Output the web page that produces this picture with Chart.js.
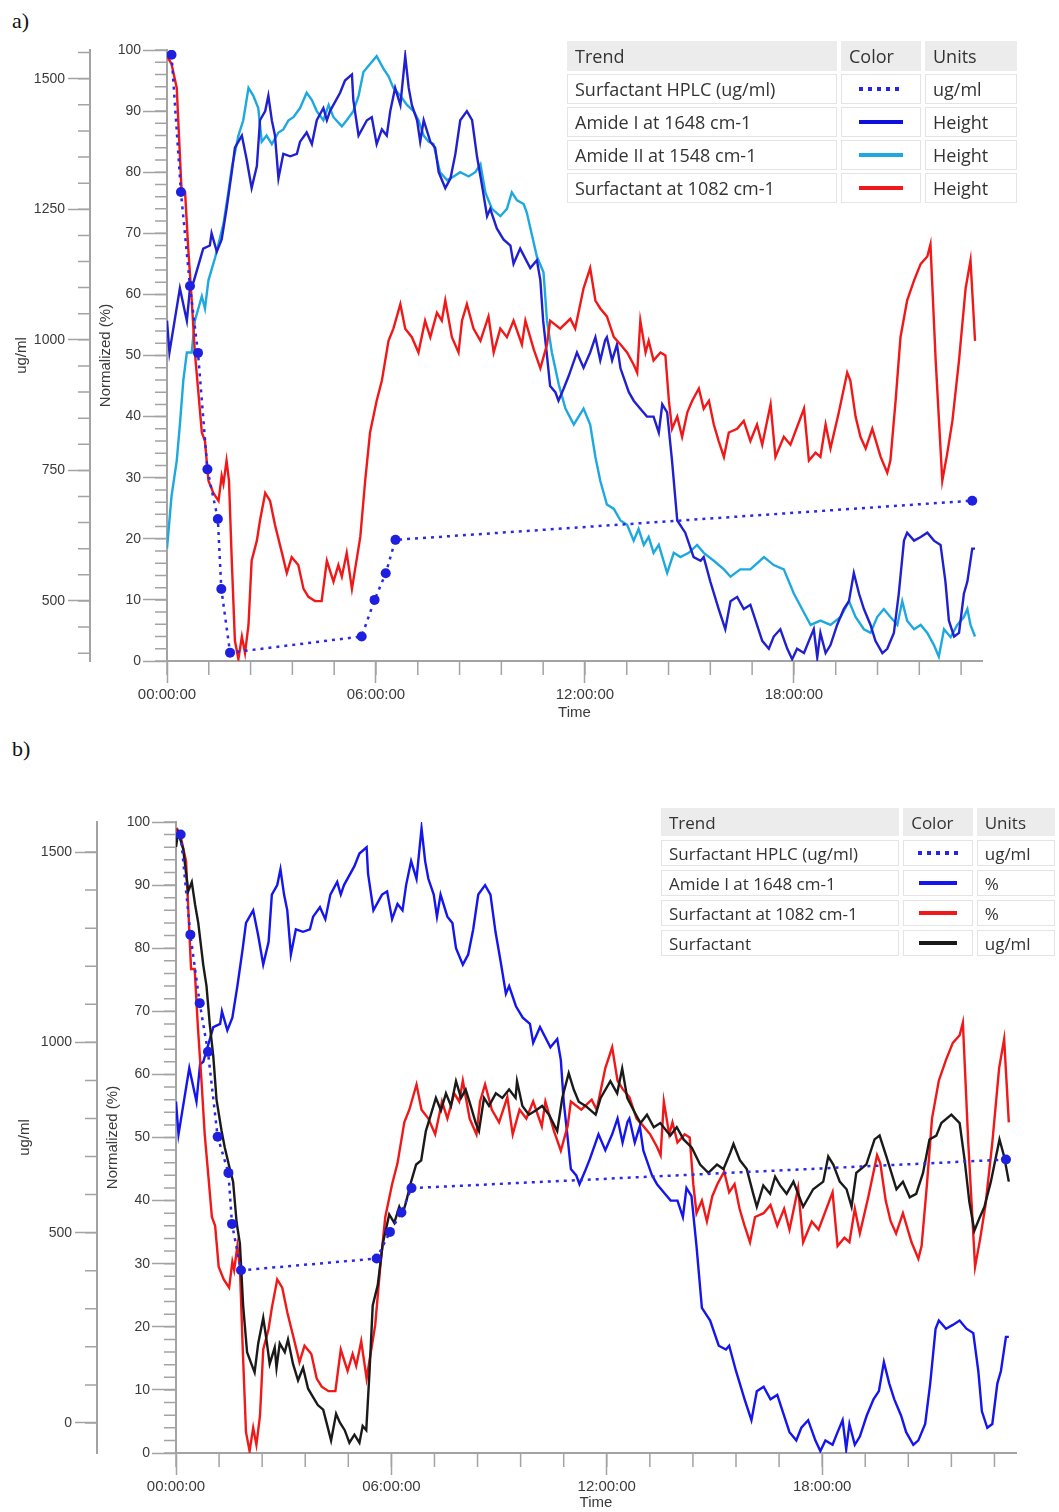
<!DOCTYPE html>
<html>
<head>
<meta charset="utf-8">
<title>Surfactant trends</title>
<script src="https://cdn.jsdelivr.net/npm/chart.js@4.4.1/dist/chart.umd.min.js"></script>
<style>
  body { margin: 0; background: #fff; }
  #page { position: relative; width: 1059px; height: 1512px; overflow: hidden; }
  canvas { position: absolute; left: 0; }
  .tag { position: absolute; left: 12px; font: 22px "Liberation Serif", serif; color: #111; }
  table.trend { position: absolute; border-collapse: separate; font-family: "Open Sans", sans-serif; color: #333; }
  table.trend td { box-sizing: border-box; border: 1px solid #e4e4e4; background: #fff; padding: 0 0 0 7px; white-space: nowrap; }
  table.trend tr.head td { background: #ececec; border-color: #ececec; }
  table.trend td.sw { padding: 0; }
  .swatch { height: 4px; margin: 0 auto; }
  .dotted { background: repeating-linear-gradient(90deg, #2525e8 0 4px, transparent 4px 9px); }
</style>
</head>
<body>
<div id="page">
  <div class="tag" style="top:8px">a)</div>
  <canvas id="chartA" width="1059" height="731" style="top:0"></canvas>

  <table class="trend" id="legendA" style="left:563px; top:38px; border-spacing:4px 3px; font-size:18px">
    <tr class="head" style="height:30px"><td style="width:270px">Trend</td><td style="width:80px">Color</td><td style="width:92px">Units</td></tr>
    <tr style="height:30px"><td>Surfactant HPLC (ug/ml)</td><td class="sw"><div class="swatch dotted" style="width:44px"></div></td><td>ug/ml</td></tr>
    <tr style="height:30px"><td>Amide I at 1648 cm-1</td><td class="sw"><div class="swatch" style="width:44px;background:#1010dd"></div></td><td>Height</td></tr>
    <tr style="height:30px"><td>Amide II at 1548 cm-1</td><td class="sw"><div class="swatch" style="width:44px;background:#1ea8e0"></div></td><td>Height</td></tr>
    <tr style="height:30px"><td>Surfactant at 1082 cm-1</td><td class="sw"><div class="swatch" style="width:44px;background:#f01818"></div></td><td>Height</td></tr>
  </table>

  <div class="tag" style="top:736px">b)</div>
  <canvas id="chartB" width="1059" height="752" style="top:760px"></canvas>

  <table class="trend" id="legendB" style="left:657px; top:804px; border-spacing:4px 4px; font-size:17px">
    <tr class="head" style="height:28px"><td style="width:248px">Trend</td><td style="width:74px">Color</td><td style="width:84px">Units</td></tr>
    <tr style="height:26px"><td>Surfactant HPLC (ug/ml)</td><td class="sw"><div class="swatch dotted" style="width:40px"></div></td><td>ug/ml</td></tr>
    <tr style="height:26px"><td>Amide I at 1648 cm-1</td><td class="sw"><div class="swatch" style="width:38px;background:#1515ee"></div></td><td>%</td></tr>
    <tr style="height:26px"><td>Surfactant at 1082 cm-1</td><td class="sw"><div class="swatch" style="width:38px;background:#f01818"></div></td><td>%</td></tr>
    <tr style="height:26px"><td>Surfactant</td><td class="sw"><div class="swatch" style="width:38px;background:#1a1a1a"></div></td><td>ug/ml</td></tr>
  </table>
</div>

<script>
// Amide I at 1648 cm-1, normalized (%), hours since start
const amideIHours = [0,0.07,0.37,0.52,0.57,0.67,0.76,1.04,1.23,1.28,1.43,1.57,1.71,1.86,1.95,2.15,2.29,2.43,2.58,2.67,
  2.82,2.91,3.01,3.1,3.2,3.34,3.54,3.73,3.82,4.01,4.16,4.3,4.49,4.59,4.68,4.97,5.11,5.31,5.35,5.5,
  5.74,5.88,6.02,6.17,6.31,6.41,6.55,6.7,6.84,6.94,7.03,7.18,7.27,7.37,7.56,7.7,7.8,7.99,8.14,8.28,
  8.42,8.61,8.76,8.9,9.04,9.19,9.28,9.47,9.66,9.86,9.95,10.14,10.43,10.62,10.72,10.8,10.9,11,11.15,11.24,
  11.39,11.53,11.77,11.96,12.15,12.3,12.44,12.58,12.63,12.78,12.92,13.02,13.26,13.4,13.59,13.78,13.97,14.12,14.22,14.36,
  14.5,14.65,14.88,15.12,15.32,15.41,15.6,15.84,16.03,16.18,16.37,16.56,16.75,16.9,17.09,17.28,17.42,17.61,17.81,17.95,
  18.09,18.29,18.43,18.57,18.67,18.76,18.91,19.05,19.24,19.43,19.58,19.72,19.87,20.01,20.2,20.34,20.54,20.68,20.87,21.01,
  21.16,21.25,21.45,21.64,21.83,22.02,22.21,22.35,22.45,22.6,22.74,22.88,22.98,23.12,23.2];
const amideI = [55.7,50.5,61,57,55.7,61.6,62,67.5,68,70,67,69,74,80,84,86,82,77.4,81,88.5,
  90,92.5,88.5,86,79,83,82.6,83,85,86.5,84.6,88.5,90.5,88.5,90,93,95,96,91.8,86,
  88.5,89,84.6,87,86,90,93.8,91,99,93.8,91,88.5,85,88.5,85,84,80,77.4,79,83,
  88.5,90,88.5,82.6,78,72.8,74,70.8,69,68,65,67.5,64.3,65.6,62.3,55.7,50.5,45,44,42.6,
  44.6,46.6,50.5,48,50.5,53,49.2,52.5,53,49.2,51.8,47.9,44,42.6,41.3,40,40,37.4,42,40.7,
  32.8,23,21,17,16.4,17,13,8.5,5.2,9.8,10.5,8.5,9.2,6.6,3.3,2,4,5.2,2,0.3,
  2,1.3,3.3,5.2,0.6,4.6,1.3,2.6,5.9,8.5,9.8,14.4,11,8.5,5.9,3.3,1.3,2,4.6,11,
  19.7,21,19.7,20.3,21,19.7,19,13,6.6,4,4.6,11,13,18.4,18.4];

// Amide II at 1548 cm-1, normalized (%)
const amideIIHours = [0,0.13,0.28,0.37,0.47,0.57,0.71,0.8,1,1.09,1.19,1.38,1.62,1.76,1.86,2.05,2.19,2.34,2.48,2.62,
  2.72,2.86,3.01,3.2,3.34,3.49,3.63,3.82,4.01,4.16,4.3,4.49,4.64,4.78,5.02,5.16,5.35,5.5,5.64,5.83,
  6.02,6.21,6.36,6.5,6.7,6.89,7.08,7.22,7.37,7.51,7.65,7.84,8.04,8.23,8.42,8.66,8.85,9,9.14,9.33,
  9.57,9.76,9.9,10.05,10.24,10.33,10.62,10.81,10.91,11.05,11.25,11.44,11.68,11.96,12.15,12.3,12.44,12.63,12.83,13.02,
  13.21,13.4,13.54,13.69,13.83,13.97,14.12,14.36,14.55,14.74,14.98,15.22,15.41,15.7,15.99,16.18,16.46,16.75,17.14,17.42,
  17.71,18,18.29,18.48,18.76,19.05,19.34,19.58,19.77,20.01,20.2,20.39,20.58,20.77,20.97,21.11,21.25,21.45,21.64,21.83,
  22.02,22.16,22.31,22.5,22.69,22.88,22.98,23.07,23.2];
const amideII = [18.4,27,32.8,38.7,46,50.5,50.5,55.7,59.7,57.7,62.3,66,71.5,76.7,80.7,86,88.5,93.8,92.5,90.5,
  85,86,84.6,86.5,87,88.5,89,90.5,93,91.8,90,88.5,91,89,87.5,88.5,90,92.5,96.4,97.7,
  99,97,95.7,93.8,92.5,91,90,88.5,86,85,84.6,80,78.7,79.3,80,79.3,80,81.3,76.7,74,
  72.8,74,76.7,75.4,74.8,73.4,66.2,63.6,55.7,50.5,45.2,41.3,38.7,41.3,38.7,33.4,29.5,25.6,24.9,23,
  22.3,19.7,21.6,19,20.3,17.7,19,14.4,17.7,17,17.7,19,17.7,16.4,15,13.8,15,15,17,15.7,
  15,11,7.9,5.9,6.6,5.9,7.2,9.8,7.2,5.2,4.6,7.2,8.5,7.2,5.9,9.8,6.6,5.2,5.9,4.6,
  2.6,0.7,5.2,3.9,5.9,7.2,8.5,5.9,4];

// Surfactant at 1082 cm-1, normalized (%)
const surfHours = [0,0.13,0.28,0.42,0.52,0.61,0.71,0.8,0.9,1,1.09,1.19,1.33,1.48,1.57,1.62,1.71,1.78,1.86,1.95,
  2.05,2.15,2.24,2.34,2.43,2.58,2.67,2.82,2.96,3.1,3.3,3.44,3.58,3.77,3.92,4.06,4.25,4.44,4.59,4.78,
  4.92,5.02,5.16,5.31,5.55,5.69,5.83,6.02,6.17,6.36,6.5,6.7,6.84,7.03,7.22,7.41,7.56,7.75,7.89,7.99,
  8.18,8.37,8.47,8.61,8.8,9,9.23,9.38,9.57,9.76,9.95,10.19,10.29,10.53,10.72,10.91,11,11.29,11.58,11.72,
  11.96,12.15,12.3,12.44,12.63,12.83,13.02,13.21,13.4,13.5,13.59,13.74,13.83,13.97,14.17,14.31,14.41,14.5,14.65,14.79,
  14.94,15.08,15.27,15.41,15.56,15.7,15.84,15.99,16.13,16.37,16.56,16.75,16.94,17.09,17.33,17.47,17.71,17.9,18.29,18.43,
  18.62,18.76,18.91,19.05,19.29,19.53,19.62,19.77,19.91,20.06,20.25,20.49,20.68,20.77,20.92,21.06,21.25,21.45,21.64,21.83,
  21.92,22.07,22.26,22.4,22.55,22.74,22.93,23.07,23.2];
const surf1082 = [99,97.7,93.8,76.7,76.7,67.5,59,50.5,44,37.4,36,29.5,27.5,26.2,30.3,29,32.8,29.5,16.4,3.3,
  0.3,4,1.3,5.9,16.4,19.7,23,27.5,26.2,22.3,17.7,14.4,17,15.7,11.8,10.5,9.8,9.8,16.4,13,
  15.7,13.8,17.7,11.8,20.3,29.5,37.4,42.6,45.9,52.4,54.4,58.4,54.4,53,50.5,55.7,53,57,55.7,59,
  53,50.5,55.7,58.4,54.4,52.4,56.4,50.5,54.4,53,55.7,51.8,55.7,51,47.9,51.8,55.7,54.4,56,54.4,
  61,64.3,59,57.7,56.4,53,51.8,50.5,48.5,47.2,55.7,50.5,52.4,49.2,50.5,50,42.6,38,40,36.7,
  40.7,42.6,44.6,41.3,42.6,38.7,36,33.4,37.4,38,39.3,36,38.7,35.4,42,33.4,36.7,35.4,41.3,32.8,
  34.1,33.4,38.7,34.8,40.7,47.2,45.9,40,36.7,34.8,38,33.4,30.8,32.8,42.6,53,59,62.3,65,66.2,
  68.2,49.2,29.5,33.9,39.3,49.2,61,65.6,52.4];

// Surfactant (ug/ml), panel b only
const surfUgHours = [0,0.06,0.2,0.34,0.44,0.53,0.62,0.76,0.85,0.94,1.04,1.13,1.27,1.36,1.5,1.59,1.69,1.78,1.87,1.98,
  2.1,2.19,2.29,2.43,2.52,2.61,2.75,2.8,2.89,3.03,3.12,3.26,3.4,3.54,3.68,3.81,3.95,4.1,4.19,4.32,
  4.46,4.56,4.7,4.83,4.97,5.11,5.2,5.3,5.39,5.48,5.62,5.76,5.94,6.08,6.22,6.31,6.41,6.55,6.69,6.83,
  6.96,7.1,7.24,7.38,7.52,7.66,7.8,7.94,8.07,8.21,8.35,8.44,8.58,8.72,8.91,9.09,9.28,9.46,9.5,9.65,
  9.83,10.02,10.2,10.39,10.62,10.76,10.94,11.08,11.22,11.41,11.69,11.83,12.1,12.29,12.43,12.57,12.75,12.94,13.12,13.31,
  13.49,13.77,13.95,14.14,14.37,14.6,14.83,15.07,15.25,15.44,15.53,15.71,15.9,16.08,16.18,16.36,16.55,16.69,16.83,17.01,
  17.2,17.47,17.75,18.03,18.17,18.31,18.49,18.68,18.82,18.95,19.23,19.46,19.6,19.79,19.93,20.07,20.25,20.44,20.62,20.81,
  20.99,21.18,21.32,21.6,21.83,21.97,22.1,22.24,22.38,22.52,22.7,22.94,23.07,23.2];
const surfUg = [1513,1552,1508,1397,1421,1363,1314,1203,1148,1048,962,849,767,723,667,634,526,471,309,186,
  155,133,209,276,219,155,198,145,209,186,219,155,112,145,90,69,47,35,2,-46,
  24,2,-19,-52,-31,-52,-8,-19,133,309,362,471,548,526,568,548,581,634,679,690,
  767,810,854,821,866,833,898,854,876,833,788,767,854,833,866,854,876,854,898,833,
  810,821,833,810,767,854,919,876,844,833,810,854,898,866,931,854,821,788,810,777,
  788,755,777,745,723,679,657,679,667,710,733,690,667,602,568,624,602,647,624,602,
  634,568,614,634,700,679,634,614,568,657,679,745,755,700,657,614,634,593,602,657,
  745,755,788,810,788,690,581,505,538,568,634,745,700,634];

// HPLC reference samples (ug/ml)
const hplcHours = [0.13,0.4,0.66,0.89,1.16,1.46,1.56,1.81,5.59,5.96,6.28,6.56,23.12];
const hplcUg = [1546,1283,1103,975,752,657,523,401,432,502,553,617,692];

// Tick labels
const hourLabels = [0,6,12,18];
const normLabels = [0,10,20,30,40,50,60,70,80,90,100];
const ugLabelsA = [500,750,1000,1250,1500];
const ugLabelsB = [0,500,1000,1500];

const axisGrey = '#a3a3a3';
const labelGrey = '#3a3a3a';
const axisFont = { family: 'Liberation Sans', size: 14 };

function hhmmss(h) {
    return String(h).padStart(2, '0') + ':00:00';
}

function points(xs, ys) {
    return xs.map((x, i) => ({ x: x, y: ys[i] }));
}

// short unlabeled ticks between the labelled ones
const minorTicks = {
    id: 'minorTicks',
    afterDraw(chart) {
        const ctx = chart.ctx;
        Object.values(chart.scales).forEach(scale => {
            const step = scale.options.minorStep;
            if (!step) return;
            const len = scale.options.minorLen;
            const first = Math.ceil(scale.min / step - 1e-9);
            ctx.save();
            ctx.strokeStyle = axisGrey;
            ctx.lineWidth = 1.5;
            ctx.beginPath();
            for (let i = first; i * step <= scale.max + 1e-9; i++) {
                const p = scale.getPixelForValue(i * step);
                if (scale.isHorizontal()) {
                    ctx.moveTo(p, scale.top);
                    ctx.lineTo(p, scale.top + len);
                } else {
                    ctx.moveTo(scale.right - len, p);
                    ctx.lineTo(scale.right, p);
                }
            }
            ctx.stroke();
            ctx.restore();
        });
    }
};

function hplcDataset() {
    return {
        data: points(hplcHours, hplcUg),
        yAxisID: 'u',
        borderColor: '#2a2ae6',
        borderWidth: 2.5,
        borderDash: [3, 5],
        pointRadius: 5,
        pointBackgroundColor: '#1f1fe0',
        pointBorderWidth: 0
    };
}

function lineDataset(xs, values, color, axis) {
    return {
        data: points(xs, values),
        yAxisID: axis,
        borderColor: color,
        borderWidth: 2.4,
        pointRadius: 0
    };
}

function makeChart(id, cfg) {
    const ctx = document.getElementById(id).getContext('2d');
    return new Chart(ctx, {
        type: 'line',
        data: { datasets: cfg.datasets },
        plugins: [minorTicks],
        options: {
            responsive: false,
            animation: false,
            layout: { padding: { top: cfg.padTop, right: cfg.padRight, bottom: 0, left: 0 } },
            plugins: { legend: { display: false }, tooltip: { enabled: false } },
            scales: {
                x: {
                    type: 'linear',
                    position: 'bottom',
                    min: 0,
                    max: 23.4,
                    afterBuildTicks: s => { s.ticks = hourLabels.map(v => ({ value: v })); },
                    afterFit: s => { s.height = cfg.xHeight; },
                    ticks: {
                        autoSkip: false, maxRotation: 0, padding: 3, color: labelGrey,
                        font: { family: 'Liberation Sans', size: 15 },
                        callback: v => hhmmss(v)
                    },
                    grid: { drawOnChartArea: false, tickLength: 22, tickColor: axisGrey, tickWidth: 1.5 },
                    border: { color: axisGrey, width: 2 },
                    title: {
                        display: true, text: 'Time', color: labelGrey,
                        font: { family: 'Liberation Sans', size: 15 },
                        padding: { top: 0, bottom: cfg.xTitlePad }
                    },
                    minorStep: 1.2,
                    minorLen: 14
                },
                n: {
                    type: 'linear',
                    position: 'left',
                    weight: 0,
                    min: 0,
                    max: 100,
                    afterBuildTicks: s => { s.ticks = normLabels.map(v => ({ value: v })); },
                    afterFit: s => { s.width = cfg.innerWidth; },
                    ticks: { autoSkip: false, padding: 2, color: labelGrey, font: axisFont, callback: v => String(v) },
                    grid: { drawOnChartArea: false, tickLength: 24, tickColor: axisGrey, tickWidth: 1.5 },
                    border: { color: axisGrey, width: 2 },
                    title: {
                        display: true, text: 'Normalized (%)', color: labelGrey,
                        font: { family: 'Liberation Sans', size: 15 },
                        padding: { top: cfg.innerTitlePad, bottom: 0 }
                    },
                    minorStep: 2,
                    minorLen: 12
                },
                u: {
                    type: 'linear',
                    position: 'left',
                    weight: 1,
                    min: cfg.ugMin,
                    max: cfg.ugMax,
                    afterBuildTicks: s => { s.ticks = cfg.ugLabels.map(v => ({ value: v })); },
                    afterFit: s => { s.width = cfg.outerWidth; },
                    ticks: { autoSkip: false, padding: 3, color: labelGrey, font: axisFont, callback: v => String(v) },
                    grid: { drawOnChartArea: false, tickLength: 22, tickColor: axisGrey, tickWidth: 1.5 },
                    border: { color: axisGrey, width: 2 },
                    title: {
                        display: true, text: 'ug/ml', color: labelGrey,
                        font: { family: 'Liberation Sans', size: 15 },
                        padding: { top: cfg.outerTitlePad, bottom: 0 }
                    },
                    minorStep: cfg.ugMinor,
                    minorLen: 12
                }
            }
        }
    });
}

document.addEventListener('DOMContentLoaded', () => {
    makeChart('chartA', {
        padTop: 50, padRight: 77, xHeight: 70, xTitlePad: 9,
        outerWidth: 90, innerWidth: 77, outerTitlePad: 13, innerTitlePad: 7,
        ugMin: 385, ugMax: 1555, ugLabels: ugLabelsA, ugMinor: 50,
        datasets: [
            hplcDataset(),
            lineDataset(surfHours, surf1082, '#f01818', 'n'),
            lineDataset(amideIHours, amideI, '#2020d0', 'n'),
            lineDataset(amideIIHours, amideII, '#1ea8e0', 'n')
        ]
    });

    makeChart('chartB', {
        padTop: 62, padRight: 43, xHeight: 59, xTitlePad: 0,
        outerWidth: 97, innerWidth: 79, outerTitlePad: 16, innerTitlePad: 7,
        ugMin: -79, ugMax: 1579, ugLabels: ugLabelsB, ugMinor: 100,
        datasets: [
            hplcDataset(),
            lineDataset(surfUgHours, surfUg, '#1a1a1a', 'u'),
            lineDataset(surfHours, surf1082, '#f01818', 'n'),
            lineDataset(amideIHours, amideI, '#1515ee', 'n')
        ]
    });
});
</script>
</body>
</html>
